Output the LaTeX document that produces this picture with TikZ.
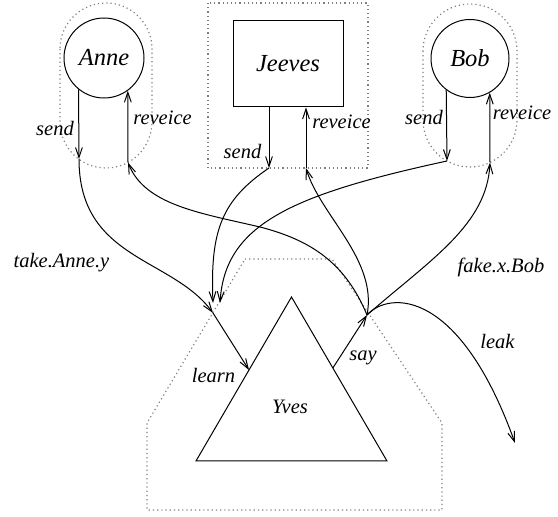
\documentclass[tikz,border=0pt]{standalone}
\usepackage{fontspec}
\setmainfont{Liberation Serif}
\usetikzlibrary{arrows.meta,calc}
\begin{document}
\begin{tikzpicture}[x=0.5pt,y=-0.5pt,
  conn/.style={line width=0.5pt,-{Straight Barb[length=5pt,width=3.4pt]}},
  wire/.style={line width=0.5pt},
  bound/.style={gray,line width=0.6pt,dash pattern=on 0.6pt off 1.5pt},
  agent/.style={draw,line width=0.5pt,inner sep=0pt,font=\fontsize{12.25}{14}\selectfont\itshape},
  lbl/.style={inner sep=0pt,font=\fontsize{10.25}{12}\selectfont\itshape}]
\useasboundingbox (0,0) rectangle (558,517);

% process boundaries
\draw[bound,rounded corners=23pt] (60,3) rectangle (152,168);
\draw[bound] (208,3) rectangle (368,168);
\draw[bound,rounded corners=23.5pt] (423,4) rectangle (517,167);
\draw[bound] (245,259) -- (332,259) -- (442,423) -- (442,510)
  -- (147,510) -- (147,423) -- cycle;

% agents
\node[agent,circle,minimum size=40pt] (anne) at (104,58) {Anne};
\node[agent,rectangle,minimum width=55pt,minimum height=43pt] (jeeves) at (288,64) {Jeeves};
\node[agent,circle,minimum size=39pt] (bob) at (470,58.5) {Bob};

% the intruder
\coordinate (apex) at (291.5,297);
\coordinate (bl) at (196,461);
\coordinate (br) at (387,461);
\draw[wire] (apex) -- (br) -- (bl) -- cycle;
\node[lbl] (yves) at (290,407) {Yves};

% ports on the boundaries
\coordinate (asend) at (79,159);
\coordinate (arecv) at (128,162.5);
\coordinate (jsend) at (269,168);
\coordinate (jrecv) at (306,168);
\coordinate (bsend) at (447,161);
\coordinate (brecv) at (490,162.5);
\coordinate (yinj) at (213,303);
\coordinate (yinb) at (220,303);
\coordinate (yina) at (213,313);
\coordinate (yout) at (367,315);
\coordinate (leakend) at (515,443);
\coordinate (lin) at ($(apex)!0.445!(bl)$);
\coordinate (sout) at ($(apex)!0.433!(br)$);

% local channels
\draw[conn] (anne.231.3) -- (asend);
\draw[conn] (arecv) -- (anne.306.9);
\draw[conn] (jeeves.south -| jsend) -- (jsend);
\draw[conn] (jrecv) -- (jeeves.south -| jrecv);
\draw[conn] (bob.233.8) -- (bsend);
\draw[conn] (brecv) -- (bob.300.9);
\draw[conn] (yina) -- (lin);
\draw[conn] (sout) -- (yout);

% network
\draw[conn] (asend) .. controls (79,260) and (172,257) .. (yina);
\draw[conn] (jsend) .. controls (222,200) and (210,230) .. (yinj);
\draw[conn] (bsend) .. controls (290,195) and (225,225) .. (yinb);
\draw[conn] (yout) .. controls (345,262) and (310,240) .. (260,227)
  .. controls (200,213) and (145,205) .. (arecv);
\draw[conn] (yout) .. controls (378,260) and (320,215) .. (jrecv);
\draw[conn] (yout) .. controls (430,260) and (487,225) .. (brecv);
\draw[conn] (yout) .. controls (390,290) and (460,290) .. (leakend);

% labels
\node[lbl] at (55,128.5) {send};
\node[lbl] at (162.5,118) {reveice};
\node[lbl] at (242.5,151.5) {send};
\node[lbl] at (341.5,121.5) {reveice};
\node[lbl] at (424,117) {send};
\node[lbl] at (522,113) {reveice};
\node[lbl] at (61.5,263) {take.Anne.y};
\node[lbl] at (213.5,376) {learn};
\node[lbl] at (363,358) {say};
\node[lbl] at (501,267) {fake.x.Bob};
\node[lbl] at (497.5,341.5) {leak};
\end{tikzpicture}
\end{document}
